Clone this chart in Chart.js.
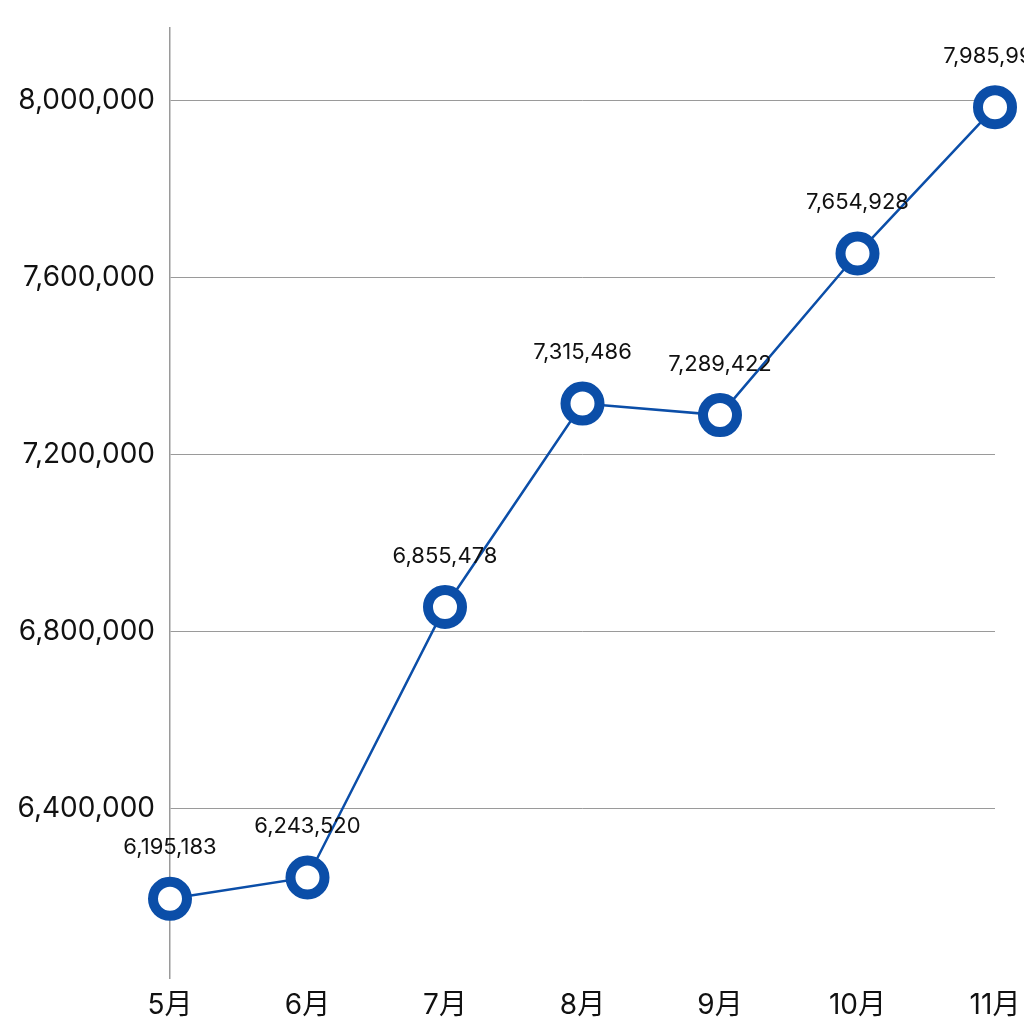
<!DOCTYPE html>
<html>
<head>
<meta charset="utf-8">
<script src="https://cdn.jsdelivr.net/npm/chart.js@4.4.1/dist/chart.umd.min.js"></script>
<style>
  html, body { margin: 0; padding: 0; background: #fff; }
  #wrap { width: 1024px; height: 1024px; }
</style>
</head>
<body>
<div id="wrap"><canvas id="chart" width="1024" height="1024"></canvas></div>
<script>
const months = ['5月', '6月', '7月', '8月', '9月', '10月', '11月'];
const values = [6195183, 6243520, 6855478, 7315486, 7289422, 7654928, 7985994];
const yTicks = [6400000, 6800000, 7200000, 7600000, 8000000];

const FONT = '"Inter", "Noto Sans CJK JP", "Noto Sans", sans-serif';
const BLUE = '#0b4ea8';

// axis padding: 10% of the data range on both sides
const lo = Math.min(...values), hi = Math.max(...values);
const pad = (hi - lo) * 0.1;

const fmt = v => v.toLocaleString('en-US');

const valueLabels = {
  id: 'valueLabels',
  afterDatasetsDraw(chart) {
    const ctx = chart.ctx;
    const meta = chart.getDatasetMeta(0);
    ctx.save();
    ctx.font = '22px ' + FONT;
    ctx.fillStyle = '#111';
    ctx.textAlign = 'center';
    ctx.textBaseline = 'middle';
    meta.data.forEach(function(pt, i) {
      ctx.fillText(fmt(values[i]), pt.x, pt.y - 51);
    });
    ctx.restore();
  }
};

new Chart(document.getElementById('chart'), {
  type: 'line',
  data: {
    labels: months,
    datasets: [{
      data: values,
      borderColor: BLUE,
      borderWidth: 2.5,
      pointRadius: 17,
      pointHoverRadius: 17,
      pointBorderWidth: 10,
      pointBackgroundColor: '#fff',
      pointBorderColor: BLUE,
      tension: 0,
      clip: false
    }]
  },
  options: {
    responsive: false,
    animation: false,
    events: [],
    layout: { padding: { top: 28, right: 29, left: 0, bottom: 0 } },
    plugins: { legend: { display: false }, tooltip: { enabled: false } },
    scales: {
      x: {
        offset: false,
        afterFit(axis) { axis.height = 46; axis.paddingLeft = 0; axis.paddingRight = 0; },
        grid: { display: false, drawTicks: false },
        border: { display: false },
        ticks: { color: '#111', font: { size: 28, family: FONT }, padding: 11, maxRotation: 0 }
      },
      y: {
        min: lo - pad,
        max: hi + pad,
        afterBuildTicks(axis) { axis.ticks = yTicks.map(v => ({ value: v })); },
        afterFit(axis) { axis.width = 170; axis.paddingTop = 0; axis.paddingBottom = 0; },
        grid: { color: '#9a9a9a', lineWidth: 1, drawTicks: false },
        border: { display: true, color: '#9a9a9a', width: 1.5 },
        ticks: {
          color: '#111',
          font: { size: 28, family: FONT },
          padding: 15,
          callback: v => fmt(v)
        }
      }
    }
  },
  plugins: [valueLabels]
});
</script>
</body>
</html>
